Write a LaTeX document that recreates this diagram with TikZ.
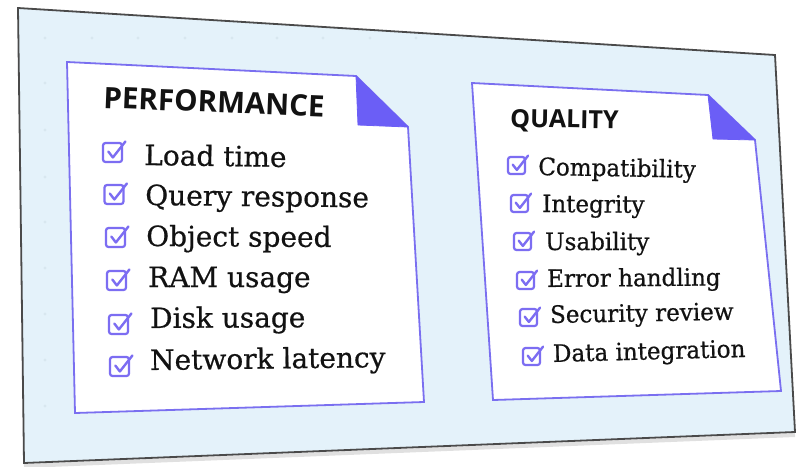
\documentclass[tikz,border=0pt]{standalone}
\usepackage{fontspec}
\setmainfont{DejaVu Serif}[FakeBold=0.6]
\newfontfamily\rightfont{DejaVu Serif}[FakeBold=0.6, FakeStretch=0.96]
\newfontfamily\titlefont{Open Sans}
\definecolor{panelfill}{HTML}{E4F2FA}
\definecolor{panelline}{HTML}{4A4A4A}
\definecolor{cardline}{HTML}{7A6FF0}
\definecolor{foldfill}{HTML}{6B5EF6}
\definecolor{chkcol}{HTML}{7C6DF2}
\definecolor{dotcol}{HTML}{D8E7EF}
\definecolor{inkcol}{HTML}{121212}
\tikzset{
  panel/.style={fill=panelfill, draw=panelline, line width=1.8pt, line join=miter},
  card/.style={fill=white, draw=cardline, line width=1.8pt, line join=miter},
  fold/.style={fill=foldfill, draw=foldfill, line width=0.8pt, line join=round},
  bigtitle/.style={inner sep=0pt, anchor=base west, text=inkcol, font=\titlefont\bfseries\fontsize{29.5}{31}\selectfont},
  smalltitle/.style={inner sep=0pt, anchor=base west, text=inkcol, font=\titlefont\bfseries\fontsize{25}{27}\selectfont},
  bigitem/.style={inner sep=0pt, anchor=base west, text=inkcol, font=\fontsize{28}{30}\selectfont},
  smallitem/.style={inner sep=0pt, anchor=base west, text=inkcol, font=\rightfont\fontsize{24}{26}\selectfont},
  chkbox/.style={draw=chkcol, line width=2.2pt, rounded corners=2.5pt},
  chkmark/.style={draw=chkcol, line width=2.4pt, line cap=round, line join=round},
  pics/chk/.style={code={
    \draw[chkbox] (0,0) rectangle (#1,#1);
    \draw[chkmark] (0.28*#1,0.45*#1) -- (0.52*#1,0.76*#1) -- (1.18*#1,-0.08*#1);
  }}
}
\begin{document}
\begin{tikzpicture}[x=1pt,y=-1pt]
\useasboundingbox (0,0) rectangle (797,466);
% outer panel with soft shadow
\coordinate (pTL) at (18,8);
\coordinate (pTR) at (775,55);
\coordinate (pBR) at (795,432);
\coordinate (pBL) at (24,463);
\draw[line width=4pt, draw=black, opacity=0.12] ([yshift=-3pt]pBL) -- ([yshift=-3pt]pBR);
\draw[panel] (pTL) -- (pTR) -- (pBR) -- (pBL) -- cycle;
% faint dots
\foreach \x in {45,92,138,185,232,277,323,370,416,462}
  \fill[dotcol] (\x,38) circle (1.6pt);
\foreach \y in {83,130,177,222,268,314,360,406}
  \fill[dotcol] (45,\y) circle (1.6pt);
% left card
\coordinate (lTL) at (67,62);
\coordinate (lF) at (356,76);
\coordinate (lFin) at (358,125);
\coordinate (lFR) at (408,127);
\coordinate (lBR) at (424,402);
\coordinate (lBL) at (75,413);
\draw[card] (lTL) -- (lF) -- (lFR) -- (lBR) -- (lBL) -- cycle;
\draw[fold] (lF) -- (lFin) -- (lFR) -- cycle;
% right card
\coordinate (rTL) at (472,83);
\coordinate (rF) at (708,95);
\coordinate (rFin) at (713,139);
\coordinate (rFR) at (755,140);
\coordinate (rBR) at (781,391);
\coordinate (rBL) at (493,400);
\draw[card] (rTL) -- (rF) -- (rFR) -- (rBR) -- (rBL) -- cycle;
\draw[fold] (rF) -- (rFin) -- (rFR) -- cycle;
% left texts
\node[bigtitle, rotate=-2.3] (perf) at (103,108) {PERFORMANCE};
\node[bigitem, rotate=-0.8] (l1) at (144,165) {Load time};
\node[bigitem, rotate=-0.6] (l2) at (145,205) {Query response};
\node[bigitem, rotate=-0.3] (l3) at (146,246) {Object speed};
\node[bigitem, rotate=0] (l4) at (148,287) {RAM usage};
\node[bigitem, rotate=0.3] (l5) at (150,328) {Disk usage};
\node[bigitem, rotate=0.7] (l6) at (150,370) {Network latency};
\pic at (103,143) {chk=19};
\pic at (104.5,185) {chk=19};
\pic at (106,228) {chk=19};
\pic at (107,271) {chk=19};
\pic at (109,315) {chk=19};
\pic at (110,357) {chk=19};
% right texts
\node[smalltitle, rotate=-1] (qual) at (510,127) {QUALITY};
\node[smallitem, rotate=-1] (r1) at (538,175) {Compatibility};
\node[smallitem, rotate=-0.5] (r2) at (542,212) {Integrity};
\node[smallitem, rotate=0] (r3) at (545,250) {Usability};
\node[smallitem, rotate=0.5] (r4) at (547,287) {Error handling};
\node[smallitem, rotate=1] (r5) at (550,323) {Security review};
\node[smallitem, rotate=1.5] (r6) at (553,362) {Data integration};
\pic at (508,157) {chk=17};
\pic at (511,195) {chk=17};
\pic at (514,233) {chk=17};
\pic at (517,272) {chk=17};
\pic at (520,309) {chk=17};
\pic at (523,348) {chk=17};
\end{tikzpicture}
\end{document}
